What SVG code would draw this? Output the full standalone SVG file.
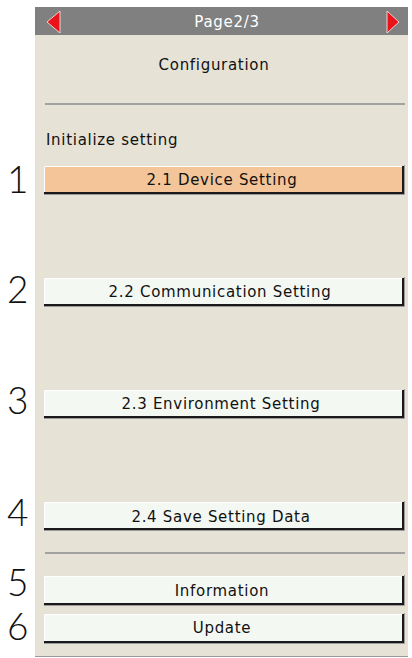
<svg xmlns="http://www.w3.org/2000/svg" width="412" height="658" viewBox="0 0 412 658">
<style>
.lbl{font-family:"DejaVu Sans","Liberation Sans",sans-serif;font-size:15px;letter-spacing:0.7px;fill:#111;text-anchor:middle}
.num{font-family:"Lato","Liberation Sans",sans-serif;font-weight:300;font-size:37px;fill:#111}
.btn{fill:#f4f8f3}
.hi{stroke:#ffffff;stroke-width:1;fill:none}
.sh{stroke:#1a1a1a;stroke-width:2;fill:none}
.sh2{stroke:#9a9a9a;stroke-width:1;fill:none}
.sep{stroke:#a2a2a2;stroke-width:2}
.tri{fill:#e8141a;stroke:#f4d0d0;stroke-width:1}
</style>
<rect x="0" y="0" width="412" height="658" fill="#ffffff"/>
<g id="panel">
<rect x="35" y="7" width="373" height="650" fill="#e6e3d6"/>
<line x1="35" y1="656.5" x2="408" y2="656.5" stroke="#9a9a9a" stroke-width="1"/>
</g>
<g id="header">
<rect x="35" y="7" width="373" height="28" fill="#808080"/>
<polygon class="tri" points="47,22 60,11 60,33"/>
<polygon class="tri" points="387,11 399,22 387,33"/>
<text x="227" y="27" class="lbl" style="fill:#ffffff">Page2/3</text>
</g>
<g id="title">
<text x="214" y="70" class="lbl">Configuration</text>
<line class="sep" x1="45" y1="104" x2="405" y2="104"/>
<text x="46" y="145" class="lbl" style="text-anchor:start">Initialize setting</text>
</g>
<g id="btn1">
<rect x="44" y="166" width="359" height="26" fill="#f3c598"/>
<polyline class="hi" points="44.5,192 44.5,166.5 403,166.5"/>
<polyline class="sh" points="44,193 403,193 403,166"/>
<polyline class="sh2" points="44,194.5 404.5,194.5 404.5,165"/>
<text x="222" y="185" class="lbl">2.1 Device Setting</text>
<text x="7" y="193" class="num">1</text>
</g>
<g id="btn2">
<rect x="44" y="278" width="359" height="26" class="btn"/>
<polyline class="hi" points="44.5,304 44.5,278.5 403,278.5"/>
<polyline class="sh" points="44,305 403,305 403,278"/>
<polyline class="sh2" points="44,306.5 404.5,306.5 404.5,277"/>
<text x="220" y="297" class="lbl">2.2 Communication Setting</text>
<text x="7" y="303" class="num">2</text>
</g>
<g id="btn3">
<rect x="44" y="390" width="359" height="26" class="btn"/>
<polyline class="hi" points="44.5,416 44.5,390.5 403,390.5"/>
<polyline class="sh" points="44,417 403,417 403,390"/>
<polyline class="sh2" points="44,418.5 404.5,418.5 404.5,389"/>
<text x="221" y="409" class="lbl">2.3 Environment Setting</text>
<text x="7" y="414" class="num">3</text>
</g>
<g id="btn4">
<rect x="44" y="502" width="359" height="26" class="btn"/>
<polyline class="hi" points="44.5,528 44.5,502.5 403,502.5"/>
<polyline class="sh" points="44,529 403,529 403,502"/>
<polyline class="sh2" points="44,530.5 404.5,530.5 404.5,501"/>
<text x="221" y="522" class="lbl">2.4 Save Setting Data</text>
<text x="7" y="526" class="num">4</text>
</g>
<line class="sep" x1="45" y1="553" x2="405" y2="553"/>
<g id="btn5">
<rect x="44" y="576" width="359" height="27" class="btn"/>
<polyline class="hi" points="44.5,603 44.5,576.5 403,576.5"/>
<polyline class="sh" points="44,604 403,604 403,576"/>
<polyline class="sh2" points="44,605.5 404.5,605.5 404.5,575"/>
<text x="222" y="596" class="lbl">Information</text>
<text x="7" y="596" class="num">5</text>
</g>
<g id="btn6">
<rect x="44" y="614" width="359" height="27" class="btn"/>
<polyline class="hi" points="44.5,641 44.5,614.5 403,614.5"/>
<polyline class="sh" points="44,642 403,642 403,614"/>
<polyline class="sh2" points="44,643.5 404.5,643.5 404.5,613"/>
<text x="222" y="633" class="lbl">Update</text>
<text x="7" y="640" class="num">6</text>
</g>
</svg>
